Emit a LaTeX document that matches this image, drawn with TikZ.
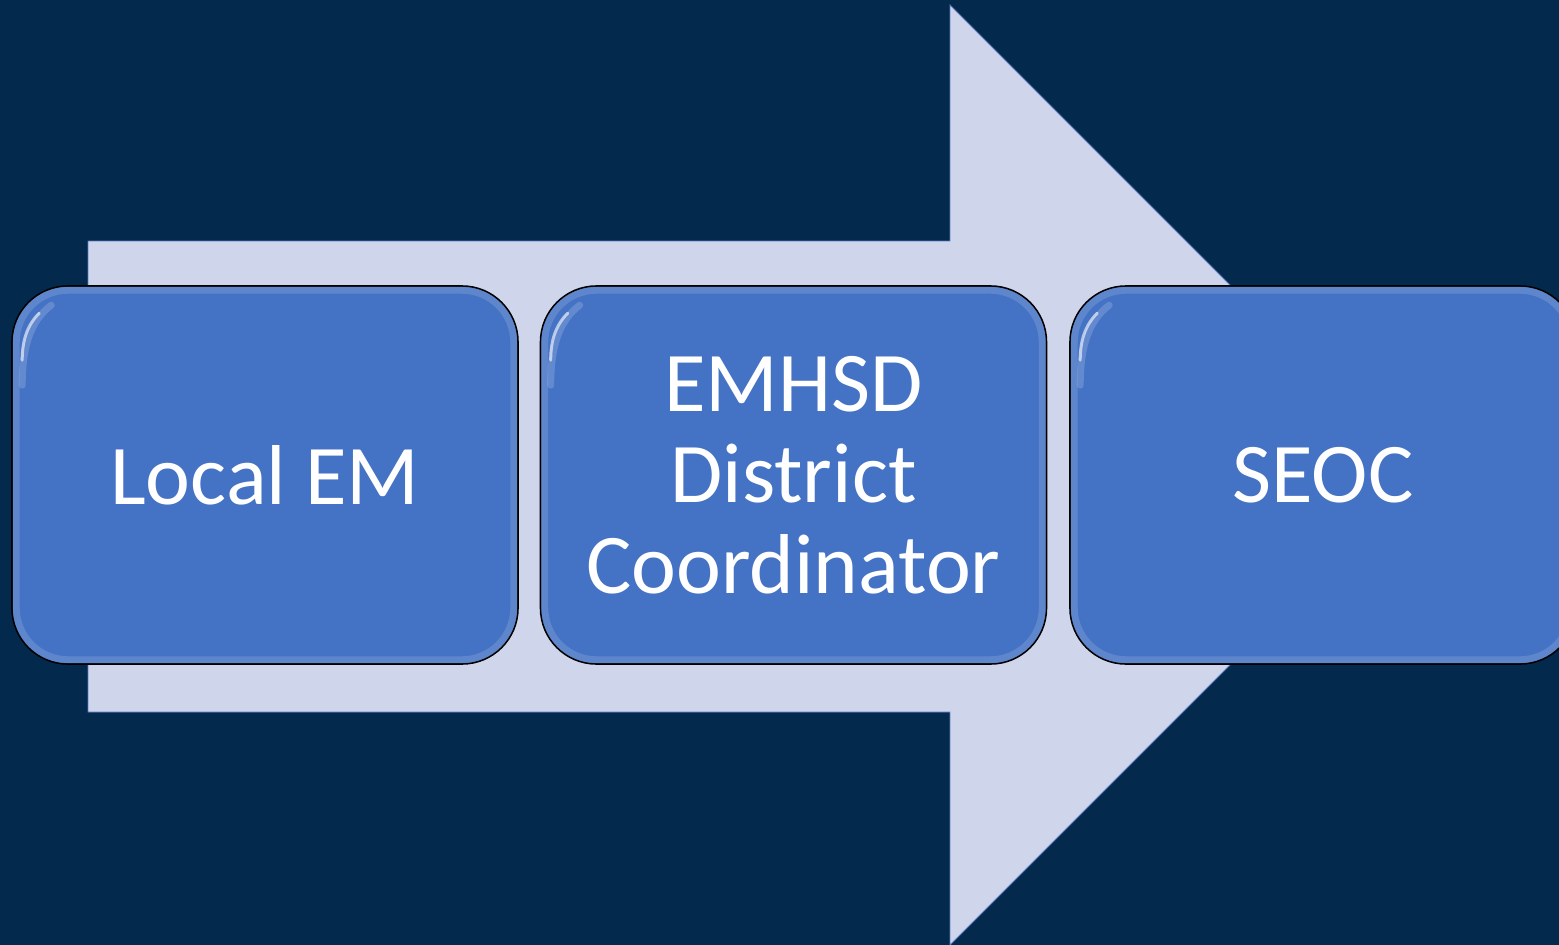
\documentclass[tikz,border=0pt]{standalone}
\usepackage{fontspec}
\setmainfont{Carlito}
\definecolor{bgnavy}{HTML}{03294D}
\definecolor{arrowfill}{HTML}{CFD5EA}
\definecolor{arrowedge}{HTML}{5B7CC0}
\definecolor{boxblue}{HTML}{4472C4}
\definecolor{glossblue}{HTML}{9DB5E3}
\tikzset{
  stagebox/.style={draw=black, line width=1.6pt, fill=boxblue, rounded corners=56pt,
    minimum width=506pt, minimum height=378pt, inner sep=0pt, text=white,
    align=center, font=\fontsize{85pt}{91pt}\selectfont},
  glossrim/.style={draw=glossblue, line width=7pt, opacity=0.3, rounded corners=52pt},
  glint/.style={draw=white, line width=3pt, opacity=0.6, line cap=round},
  glintsoft/.style={draw=glossblue, line width=7pt, opacity=0.35, line cap=round},
}
\begin{document}
\begin{tikzpicture}[x=1pt,y=-1pt]
  \useasboundingbox (0,0) rectangle (1559,945);
  \clip (0,0) rectangle (1559,945);
  \fill[bgnavy] (0,0) rectangle (1559,945);
  % big arrow
  \filldraw[fill=arrowfill, draw=arrowedge, line width=0.8pt]
    (88,241) -- (950,241) -- (950,5) -- (1420,475) -- (950,945) -- (950,712) -- (88,712) -- cycle;
  % stages
  \node[stagebox] (b1) at (265,475) {Local EM};
  \node[stagebox] (b2) at (793.5,475) {EMHSD\\District\\Coordinator};
  \node[stagebox] (b3) at (1323,475) {SEOC};
  \foreach \b in {b1,b2,b3}{
    \draw[glossrim] ([shift={(5pt,-5pt)}]\b.north west) rectangle ([shift={(-5pt,5pt)}]\b.south east);
    \draw[glintsoft] ([shift={(11pt,-100pt)}]\b.north west) .. controls ([shift={(11pt,-60pt)}]\b.north west) and ([shift={(20pt,-35pt)}]\b.north west) .. ([shift={(40pt,-20pt)}]\b.north west);
    \draw[glint] ([shift={(11pt,-75pt)}]\b.north west) .. controls ([shift={(11pt,-55pt)}]\b.north west) and ([shift={(16pt,-40pt)}]\b.north west) .. ([shift={(28pt,-28pt)}]\b.north west);
  }
\end{tikzpicture}
\end{document}
